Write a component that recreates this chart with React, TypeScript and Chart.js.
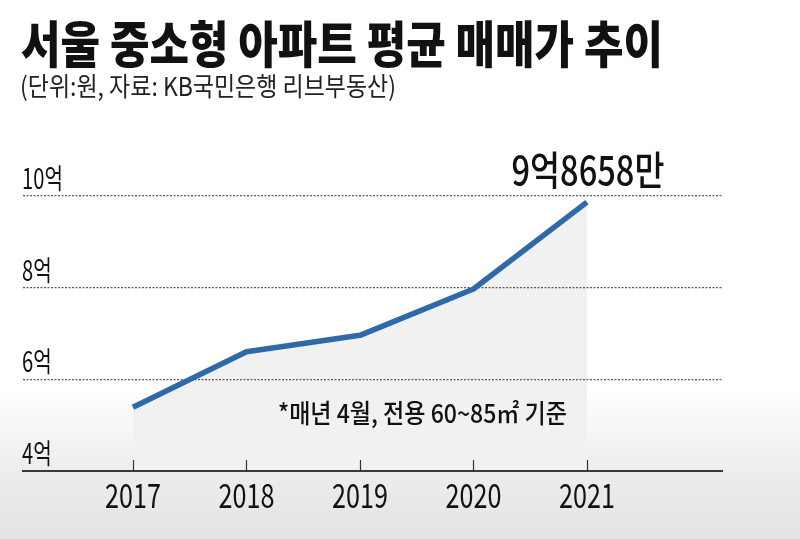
import React, { useEffect, useRef } from "react";
import { Chart, registerables } from "chart.js";

Chart.register(...registerables);

// ---- data ----
const YEARS = [2017, 2018, 2019, 2020, 2021];
const PRICES = [5.39, 6.6, 6.96, 7.97, 9.8658]; // 억원
const Y_TICKS = [4, 6, 8, 10];
const Y_TICK_LABELS = ["4억", "6억", "8억", "10억"];
const X_TICK_LABELS = ["2017", "2018", "2019", "2020", "2021"];
const TITLE = "서울 중소형 아파트 평균 매매가 추이";
const SUBTITLE = "(단위:원, 자료: KB국민은행 리브부동산)";
const LAST_LABEL = "9억8658만";
const NOTE = "*매년 4월, 전용 60~85㎡ 기준";

// axis range (x extends beyond data on both sides)
const X_MIN = 2016.031;
const X_MAX = 2022.19;
const Y_MIN = 4;
const Y_MAX = 10;

const KR = '"Noto Sans CJK KR", "Noto Sans", sans-serif';

function drawSqueezed(
  ctx: CanvasRenderingContext2D,
  text: string,
  x: number,
  y: number,
  font: string,
  width: number,
  align: "left" | "center",
  color: string
) {
  ctx.save();
  ctx.font = font;
  ctx.fillStyle = color;
  ctx.textBaseline = "middle";
  ctx.textAlign = "left";
  const w = ctx.measureText(text).width;
  const s = width / w;
  ctx.translate(x, y);
  ctx.scale(s, 1);
  ctx.fillText(text, align === "center" ? -w / 2 : 0, 0);
  ctx.restore();
}

function drawScaled(
  ctx: CanvasRenderingContext2D,
  text: string,
  x: number,
  y: number,
  font: string,
  sx: number,
  align: "left" | "center",
  color: string
) {
  ctx.save();
  ctx.font = font;
  ctx.fillStyle = color;
  ctx.textBaseline = "middle";
  ctx.textAlign = "left";
  const w = ctx.measureText(text).width;
  ctx.translate(x, y);
  ctx.scale(sx, 1);
  ctx.fillText(text, align === "center" ? -w / 2 : 0, 0);
  ctx.restore();
}

const decorPlugin = {
  id: "decor",
  afterDraw(chart: any) {
    const { ctx, chartArea, scales } = chart;
    const xs = scales.x;
    const ys = scales.y;
    // upward tick marks on the x axis
    ctx.save();
    ctx.strokeStyle = "#333";
    ctx.lineWidth = 1.2;
    xs.ticks.forEach((t: any) => {
      const px = Math.round(xs.getPixelForValue(t.value)) + 0.5;
      ctx.beginPath();
      ctx.moveTo(px, chartArea.bottom);
      ctx.lineTo(px, chartArea.bottom - 11);
      ctx.stroke();
    });
    ctx.restore();

    // x tick labels (condensed)
    xs.ticks.forEach((t: any) => {
      const px = xs.getPixelForValue(t.value);
      const label = X_TICK_LABELS[YEARS.indexOf(t.value)] ?? String(t.value);
      drawScaled(ctx, label, px, chartArea.bottom + 24, `400 34px ${KR}`, 0.74, "center", "#111");
    });

    // y tick labels (condensed, sitting above the grid lines)
    ys.ticks.forEach((t: any) => {
      const py = ys.getPixelForValue(t.value);
      const i = Y_TICKS.indexOf(t.value);
      const label = i >= 0 ? Y_TICK_LABELS[i] : `${t.value}억`;
      drawScaled(ctx, label, chartArea.left - 1, py - 17.5, `400 28px ${KR}`, 0.72, "left", "#111");
    });

    // title & subtitle
    drawSqueezed(ctx, TITLE, 21, 44, `900 50px ${KR}`, 642, "left", "#111");
    drawSqueezed(ctx, SUBTITLE, 20, 86, `400 26px ${KR}`, 376, "left", "#222");

    // value label of last point
    const lastX = xs.getPixelForValue(YEARS[YEARS.length - 1]);
    const lastY = ys.getPixelForValue(PRICES[PRICES.length - 1]);
    drawSqueezed(ctx, LAST_LABEL, lastX + 1, lastY - 32, `500 40px ${KR}`, 153, "center", "#111");

    // footnote
    drawSqueezed(ctx, NOTE, chartArea.left + 255, chartArea.bottom - 58, `500 26px ${KR}`, 289, "left", "#111");
  },
};

export default function App() {
  const ref = useRef<HTMLCanvasElement>(null);

  useEffect(() => {
    const canvas = ref.current;
    if (!canvas) return;
    const chart = new Chart(canvas, {
      type: "line",
      data: {
        datasets: [
          {
            data: YEARS.map((yr, i) => ({ x: yr, y: PRICES[i] })),
            borderColor: "#2e6aa8",
            borderWidth: 5.5,
            pointRadius: 0,
            pointHoverRadius: 0,
            tension: 0,
            borderJoinStyle: "round",
            fill: "start",
            backgroundColor: "#f1f1f1",
          },
        ],
      },
      options: {
        responsive: false,
        animation: false,
        events: [],
        layout: { padding: { left: 23, right: 78, top: 196, bottom: 0 } },
        plugins: {
          legend: { display: false },
          tooltip: { enabled: false },
          title: { display: false },
          filler: { drawTime: "beforeDraw" },
        },
        scales: {
          x: {
            type: "linear",
            min: X_MIN,
            max: X_MAX,
            afterBuildTicks: (s: any) => {
              s.ticks = YEARS.map((v) => ({ value: v }));
            },
            afterFit: (s: any) => {
              s.height = 68;
              s.paddingLeft = 0;
              s.paddingRight = 0;
              s.paddingTop = 0;
              s.paddingBottom = 0;
            },
            grid: { display: true, drawOnChartArea: false, drawTicks: false, tickLength: 0 },
            border: { display: true, color: "#3a3a3a", width: 2 },
            ticks: { display: false },
          },
          y: {
            type: "linear",
            min: Y_MIN,
            max: Y_MAX,
            afterBuildTicks: (s: any) => {
              s.ticks = Y_TICKS.map((v) => ({ value: v }));
            },
            afterFit: (s: any) => {
              s.width = 0;
              s.paddingLeft = 0;
              s.paddingRight = 0;
              s.paddingTop = 0;
              s.paddingBottom = 0;
            },
            grid: {
              color: (c: any) => (c.tick && c.tick.value === Y_MIN ? "rgba(0,0,0,0)" : "#5a5a5a"),
              lineWidth: 1.2,
              drawTicks: false,
              tickLength: 0,
            },
            border: { display: false, dash: [2, 1.5] },
            ticks: { display: false },
          },
        },
      },
      plugins: [decorPlugin],
    } as any);
    return () => chart.destroy();
  }, []);

  return (
    <div
      style={{
        position: "fixed",
        left: 0,
        top: 0,
        width: 800,
        height: 539,
        background:
          "linear-gradient(to bottom, #ffffff 0px, #ffffff 390px, #eeeeee 465px, #e3e3e3 539px)",
      }}
    >
      <canvas ref={ref} width={800} height={539} style={{ display: "block", width: 800, height: 539 }} />
    </div>
  );
}
